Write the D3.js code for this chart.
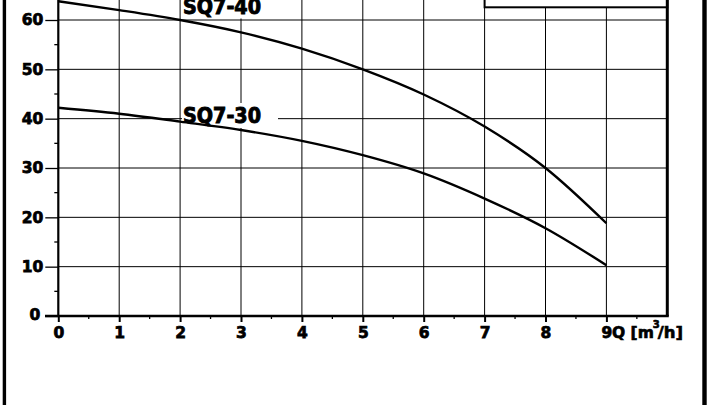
<!DOCTYPE html>
<html>
<head>
<meta charset="utf-8">
<script src="https://cdn.jsdelivr.net/npm/d3@7"></script>
<style>
  html, body { margin: 0; padding: 0; background: #fff; }
  svg { display: block; }
  text { font-family: "DejaVu Sans", Verdana, sans-serif; font-weight: bold; }
</style>
</head>
<body>
<svg id="chart" width="720" height="405"></svg>
<script>
// ---- data ----
const flowQ = [0, 1, 2, 3, 4, 5, 6, 7, 8, 9];              // Q [m3/h]
const headSQ740 = [63.8, 62.0, 60.0, 57.5, 54.2, 50.0, 44.9, 38.4, 30.0, 18.8];
const headSQ730 = [42.2, 41.0, 39.4, 37.7, 35.5, 32.6, 28.9, 23.8, 17.8, 10.3];
const seriesNames = ["SQ7-40", "SQ7-30"];
const xTickLabels = ["0", "1", "2", "3", "4", "5", "6", "7", "8", "9"];
const yTickValues = [0, 10, 20, 30, 40, 50, 60];
const xAxisTitle = "Q [m";
const xAxisTitleSup = "3";
const xAxisTitleEnd = "/h]";

// ---- layout ----
const svg = d3.select("#chart");
const x = d3.scaleLinear().domain([0, 10]).range([58.3, 667.3]);
const y = d3.scaleLinear().domain([0, 60]).range([316, 20]);
const yTopPx = -40;
const tickFont = "DejaVu Sans, Verdana, sans-serif";

// grid
const grid = svg.append("g").attr("stroke", "#000").attr("stroke-width", 1);
grid.selectAll("line.v").data(d3.range(1, 10)).join("line")
  .attr("class", "v")
  .attr("x1", d => x(d)).attr("x2", d => x(d))
  .attr("y1", y(0)).attr("y2", yTopPx);
grid.selectAll("line.h").data(yTickValues.slice(1)).join("line")
  .attr("class", "h")
  .attr("x1", x(0)).attr("x2", x(10))
  .attr("y1", d => y(d)).attr("y2", d => y(d));

// label backgrounds (white boxes hiding grid)
svg.append("rect").attr("x", 181).attr("y", yTopPx).attr("width", 110).attr("height", 18.5 - yTopPx).attr("fill", "#fff");
svg.append("rect").attr("x", 182).attr("y", 103).attr("width", 96).attr("height", 25).attr("fill", "#fff");

// curves
const line = d3.line().x((d, i) => x(flowQ[i])).y(d => y(d)).curve(d3.curveMonotoneX);
[headSQ740, headSQ730].forEach(s => {
  svg.append("path").datum(s).attr("d", line)
    .attr("fill", "none").attr("stroke", "#000").attr("stroke-width", 2.4);
});

// series labels
const labelPos = [[183, 14], [183, 123]];
seriesNames.forEach((n, i) => {
  svg.append("text").attr("x", labelPos[i][0]).attr("y", labelPos[i][1])
    .attr("font-family", "DejaVu Sans Condensed, DejaVu Sans, sans-serif")
    .attr("font-stretch", "condensed")
    .attr("font-size", 21.5).attr("fill", "#000")
    .attr("stroke", "#000").attr("stroke-width", 0.9)
    .attr("textLength", 78).attr("lengthAdjust", "spacingAndGlyphs")
    .text(n);
});

// legend box at top right
svg.append("rect").attr("x", x(7)).attr("y", yTopPx)
  .attr("width", x(10) - x(7)).attr("height", 7.3 - yTopPx)
  .attr("fill", "#fff").attr("stroke", "#000").attr("stroke-width", 2);

// y axis ticks/labels
const yAxis = d3.axisLeft(y).tickValues(yTickValues).tickSize(13).tickSizeOuter(0).tickPadding(2)
  .tickFormat(d3.format("d"));
const gy = svg.append("g").attr("transform", `translate(${x(0)},0)`).call(yAxis);
gy.select(".domain").remove();
gy.selectAll(".tick line").attr("stroke", "#000").attr("stroke-width", 1.3);
gy.selectAll(".tick text").attr("font-size", 15.5).attr("fill", "#000")
  .attr("stroke", "#000").attr("stroke-width", 0.75)
  .attr("font-family", tickFont).attr("font-weight", "bold");
gy.selectAll(".tick").filter(d => d === 0).select("text").attr("dy", "0.2em").attr("x", -18);

// y minor ticks
svg.append("g").selectAll("line").data(d3.range(5, 60, 10)).join("line")
  .attr("x1", x(0) - 4).attr("x2", x(0))
  .attr("y1", d => y(d)).attr("y2", d => y(d))
  .attr("stroke", "#000").attr("stroke-width", 1.3);

// x axis ticks/labels
const xAxis = d3.axisBottom(x).tickValues(flowQ).tickSize(6).tickSizeOuter(0).tickPadding(5)
  .tickFormat((d, i) => xTickLabels[i]);
const gx = svg.append("g").attr("transform", `translate(0,${y(0)})`).call(xAxis);
gx.select(".domain").remove();
gx.selectAll(".tick line").attr("stroke", "#000").attr("stroke-width", 2);
gx.selectAll(".tick text").attr("font-size", 15.5).attr("fill", "#000")
  .attr("stroke", "#000").attr("stroke-width", 0.75)
  .attr("font-family", tickFont).attr("font-weight", "bold");

// x minor ticks
svg.append("g").selectAll("line").data(d3.range(0.5, 10, 1)).join("line")
  .attr("x1", d => x(d)).attr("x2", d => x(d))
  .attr("y1", y(0)).attr("y2", y(0) + 3)
  .attr("stroke", "#000").attr("stroke-width", 1.3);

// axis lines
svg.append("line").attr("x1", x(0)).attr("x2", x(0)).attr("y1", y(0) + 1).attr("y2", yTopPx)
  .attr("stroke", "#000").attr("stroke-width", 2.2);
svg.append("line").attr("x1", 45).attr("x2", x(10) + 1.5).attr("y1", y(0)).attr("y2", y(0))
  .attr("stroke", "#000").attr("stroke-width", 2.4);
svg.append("line").attr("x1", x(10)).attr("x2", x(10)).attr("y1", y(0)).attr("y2", yTopPx)
  .attr("stroke", "#000").attr("stroke-width", 3);

// x axis title
const t = svg.append("text").attr("x", 612).attr("y", 338).attr("font-size", 15.5)
  .attr("fill", "#000").attr("stroke", "#000").attr("stroke-width", 0.65);
t.append("tspan").text(xAxisTitle);
t.append("tspan").attr("font-size", 10).attr("dy", -10).attr("dx", -1).text(xAxisTitleSup);
t.append("tspan").attr("dy", 10).attr("dx", -2).attr("font-size", 16.5).text(xAxisTitleEnd);

// outer frame bars
svg.append("rect").attr("x", 2.7).attr("y", 0).attr("width", 3.4).attr("height", 405).attr("fill", "#000");
svg.append("rect").attr("x", 702.3).attr("y", 0).attr("width", 4.4).attr("height", 405).attr("fill", "#000");
</script>
</body>
</html>
